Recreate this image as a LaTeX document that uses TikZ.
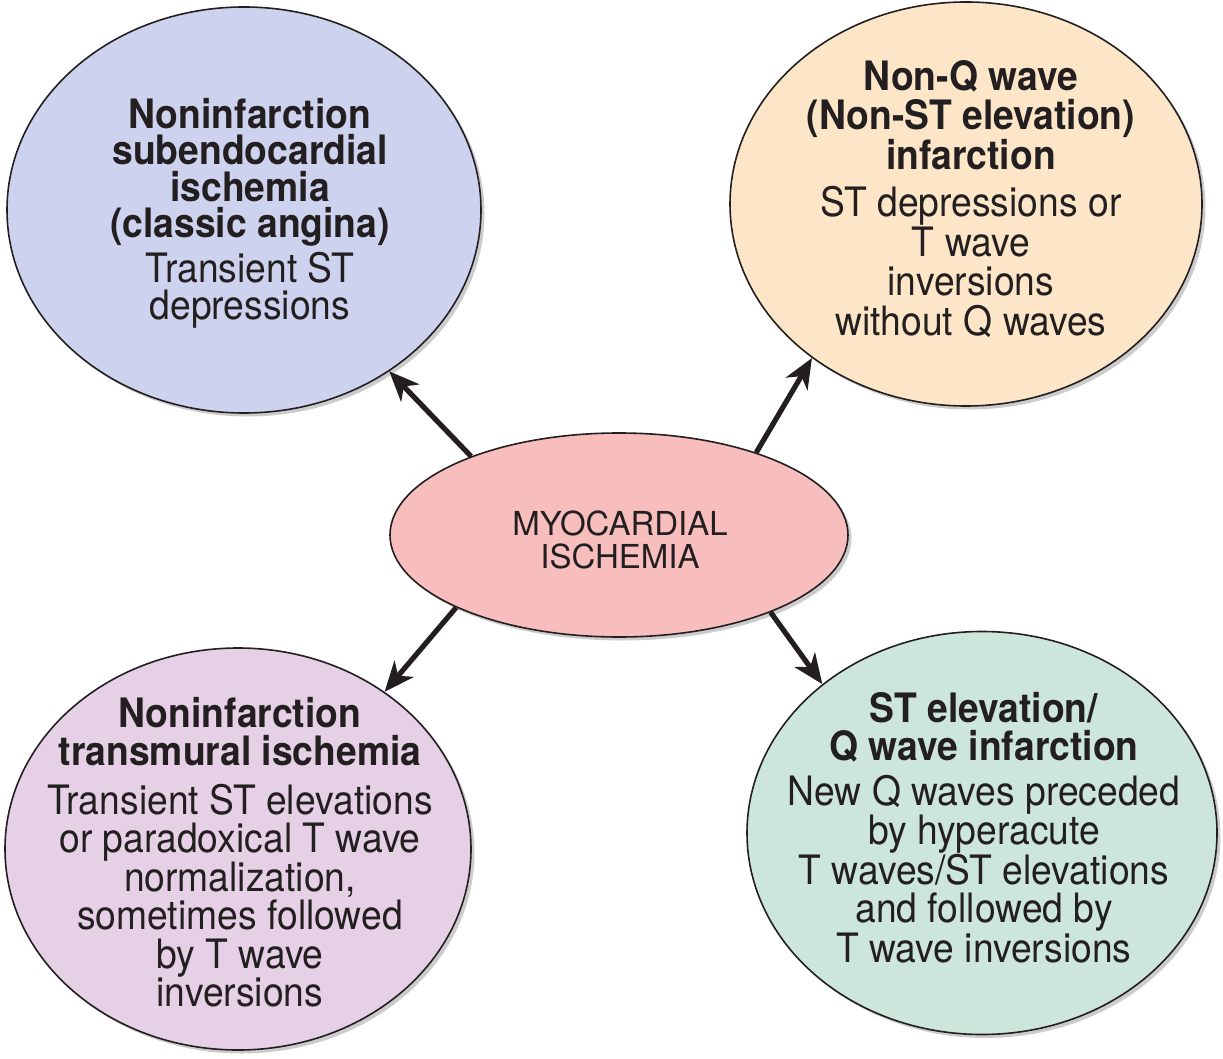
\documentclass[tikz,border=0pt]{standalone}
\usepackage{fontspec}
\setmainfont{TeX Gyre Heros}
\newfontfamily\narrowfont{TeX Gyre Heros}[FakeStretch=0.92]
\usetikzlibrary{shapes.geometric,arrows.meta,shadows}
\definecolor{tlfill}{HTML}{CDD3EE}
\definecolor{trfill}{HTML}{FDE6C8}
\definecolor{midfill}{HTML}{F8BEBE}
\definecolor{blfill}{HTML}{E6D0E6}
\definecolor{brfill}{HTML}{CDE6DC}
\definecolor{ink}{HTML}{231F20}
\begin{document}
\begin{tikzpicture}[x=1pt,y=-1pt,
  bubble/.style={ellipse, draw=ink, line width=1.6pt, inner sep=0pt,
    drop shadow={shadow xshift=3.5pt,shadow yshift=-3.5pt,fill=black!40}},
  txt/.style={align=center, anchor=north, inner sep=0pt, text=ink},
  arr/.style={line width=5.2pt, draw=ink,
    -{Stealth[length=30pt,width=25pt,inset=9pt]}}]
\useasboundingbox (0,0) rectangle (1223,1059);

\node[bubble, fill=tlfill, minimum width=474pt, minimum height=406pt] (tl) at (244,210) {};
\node[bubble, fill=trfill, minimum width=472pt, minimum height=404pt] (tr) at (966,204) {};
\node[bubble, fill=midfill, minimum width=458pt, minimum height=204pt] (mid) at (619,535) {};
\node[bubble, fill=blfill, minimum width=466pt, minimum height=402pt] (bl) at (238,849) {};
\node[bubble, fill=brfill, minimum width=470pt, minimum height=403pt] (br) at (982,833) {};

\node[txt, font=\narrowfont\fontsize{40.5}{36.5}\selectfont] (tlt) at (250,98)
  {\textbf{Noninfarction}\\ \textbf{subendocardial}\\ \textbf{ischemia}\\ \textbf{(classic angina)}\\[5pt]
   Transient ST\\ depressions};
\node[txt, font=\narrowfont\fontsize{40.5}{39.5}\selectfont] (trt) at (971,60)
  {\textbf{Non-Q wave}\\ \textbf{(Non-ST elevation)}\\ \textbf{infarction}\\[8pt]
   ST depressions or\\ T wave\\ inversions\\ without Q waves};
\node[txt, font=\fontsize{33}{33}\selectfont, anchor=center] (midt) at (620,540)
  {MYOCARDIAL\\ ISCHEMIA};
\node[txt, font=\narrowfont\fontsize{40.5}{38.5}\selectfont] (blt) at (240,697)
  {\textbf{Noninfarction}\\ \textbf{transmural ischemia}\\[10pt]
   Transient ST elevations\\ or paradoxical T wave\\ normalization,\\ sometimes followed\\ by T wave\\ inversions};
\node[txt, font=\narrowfont\fontsize{40.5}{38}\selectfont] (brt) at (984,692)
  {\textbf{ST elevation/}\\ \textbf{Q wave infarction}\\[7pt]
   New Q waves preceded\\ by hyperacute\\ T waves/ST elevations\\ and followed by\\ T wave inversions};

\draw[arr] (mid.152) -- (tl.-48);
\draw[arr] (mid.31) -- (tr.225);
\draw[arr] (mid.204) -- (bl.47);
\draw[arr] (mid.-27) -- (br.137);
\end{tikzpicture}
\end{document}
